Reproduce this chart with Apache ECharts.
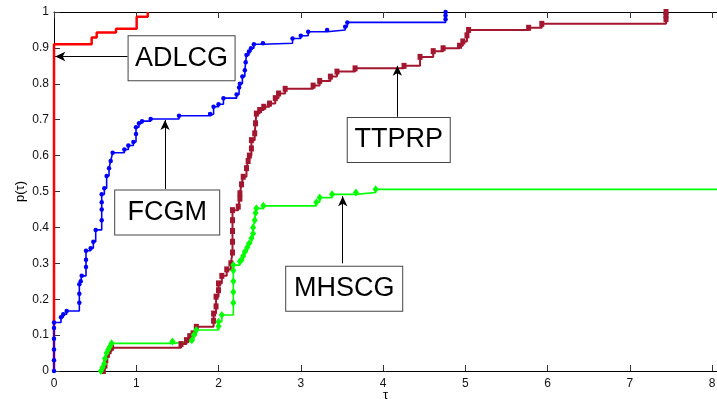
<!DOCTYPE html>
<html>
<head>
<meta charset="utf-8">
<script src="https://cdn.jsdelivr.net/npm/echarts@6/dist/echarts.min.js"></script>
<style>
  html, body { margin: 0; padding: 0; background: #fff; }
  #perfProfile { width: 717px; height: 399px; }
</style>
</head>
<body>
<div id="perfProfile"></div>
<script>
// tick labels
var xTickLabels = ['0', '1', '2', '3', '4', '5', '6', '7', '8'];
var yTickLabels = ['0', '0.1', '0.2', '0.3', '0.4', '0.5', '0.6', '0.7', '0.8', '0.9', '1'];

// [tau, p(tau)]
var adlcg = [[0, 0], [0, 0.91], [0.458, 0.929], [0.519, 0.943], [0.754, 0.953], [1.005, 0.987], [1.14, 1.0]];

var fcgm = [[0, 0], [0, 0.03], [0, 0.06], [0, 0.09], [0, 0.12], [0, 0.135], [0.085, 0.15], [0.113, 0.158],
  [0.154, 0.167], [0.308, 0.19], [0.308, 0.215], [0.308, 0.2415], [0.325, 0.25], [0.337, 0.265],
  [0.389, 0.29], [0.389, 0.31], [0.389, 0.335], [0.446, 0.342], [0.478, 0.36], [0.507, 0.393],
  [0.58, 0.42], [0.58, 0.45], [0.58, 0.47], [0.58, 0.492], [0.612, 0.509], [0.64, 0.543], [0.669, 0.565],
  [0.689, 0.585], [0.713, 0.608], [0.855, 0.617], [0.904, 0.628], [0.965, 0.638], [0.997, 0.66],
  [0.997, 0.679], [1.033, 0.69], [1.07, 0.696], [1.175, 0.702], [1.52, 0.711], [1.897, 0.716],
  [1.94, 0.736], [2.0, 0.743], [2.06, 0.76], [2.22, 0.77], [2.25, 0.79], [2.26, 0.80], [2.29, 0.82],
  [2.32, 0.838], [2.33, 0.86], [2.34, 0.88], [2.37, 0.89], [2.395, 0.899], [2.43, 0.91], [2.54, 0.913],
  [2.90, 0.926], [3.0, 0.934], [3.09, 0.945], [3.32, 0.95], [3.54, 0.959], [3.566, 0.971],
  [4.76, 0.98], [4.76, 0.99], [4.76, 1.0]];

var ttprp = [[0.6, 0], [0.62, 0.015], [0.63, 0.03], [0.65, 0.045], [0.67, 0.055], [0.7, 0.065],
  [1.544, 0.075], [1.61, 0.086], [1.65, 0.097], [1.69, 0.105], [1.73, 0.123], [1.94, 0.14], [1.94, 0.16],
  [1.97, 0.18], [1.97, 0.207], [2.0, 0.225], [2.0, 0.244], [2.04, 0.265], [2.1, 0.283], [2.15, 0.30],
  [2.17, 0.33], [2.17, 0.36], [2.17, 0.39], [2.17, 0.42], [2.17, 0.448], [2.24, 0.458], [2.26, 0.48],
  [2.26, 0.495], [2.28, 0.52], [2.30, 0.541], [2.34, 0.565], [2.36, 0.585], [2.375, 0.60], [2.40, 0.62],
  [2.40, 0.643], [2.44, 0.662], [2.45, 0.69], [2.46, 0.717], [2.5, 0.727], [2.55, 0.736], [2.62, 0.745],
  [2.69, 0.76], [2.73, 0.773], [2.81, 0.786], [3.15, 0.795], [3.23, 0.808], [3.36, 0.82], [3.44, 0.834],
  [3.66, 0.843], [4.255, 0.85], [4.45, 0.875], [4.61, 0.891], [4.73, 0.899], [4.93, 0.906], [4.97, 0.918],
  [5.02, 0.935], [5.04, 0.95], [5.77, 0.956], [5.93, 0.967], [7.44, 0.98], [7.44, 0.99], [7.44, 1.0]];

var mhscg = [[0.57, 0], [0.59, 0.01], [0.61, 0.02], [0.62, 0.035], [0.64, 0.05], [0.66, 0.06], [0.68, 0.068],
  [0.70, 0.077], [1.44, 0.082], [1.675, 0.086], [1.70, 0.10], [1.73, 0.114], [2.0, 0.125], [2.0, 0.137],
  [2.04, 0.156], [2.18, 0.19], [2.18, 0.22], [2.18, 0.25], [2.18, 0.28], [2.18, 0.295], [2.26, 0.305],
  [2.28, 0.31], [2.30, 0.32], [2.32, 0.332], [2.35, 0.345], [2.37, 0.355], [2.40, 0.37], [2.42, 0.383],
  [2.42, 0.40], [2.44, 0.42], [2.45, 0.44], [2.46, 0.453], [2.545, 0.46], [3.19, 0.47], [3.23, 0.483],
  [3.38, 0.492], [3.67, 0.497], [3.91, 0.506], [8.6, 0.508]];

// annotations: box centre, arrow start -> arrow tip (data coords)
var notes = [
  { text: 'ADLCG', box: [1.551, 0.871], w: 96, from: [0.894, 0.876], to: [0.015, 0.876] },
  { text: 'FCGM', box: [1.376, 0.4415], w: 94, from: [1.35, 0.507], to: [1.35, 0.699] },
  { text: 'TTPRP', box: [4.191, 0.6435], w: 92, from: [4.174, 0.708], to: [4.174, 0.85] },
  { text: 'MHSCG', box: [3.528, 0.229], w: 106, from: [3.51, 0.30], to: [3.51, 0.487] }
];

var myChart = echarts.init(document.getElementById('perfProfile'), null, { renderer: 'canvas' });
var font = '"Liberation Sans", Arial, Helvetica, sans-serif';

function stairs(name, data, color, width, symbol, size) {
  return {
    name: name,
    type: 'line',
    step: 'end',
    data: data,
    showAllSymbol: true,
    symbol: symbol,
    symbolSize: size,
    itemStyle: { color: color },
    lineStyle: { color: color, width: width },
    z: 3
  };
}

var option = {
  animation: false,
  backgroundColor: '#fff',
  textStyle: { fontFamily: font },
  grid: { left: 54, top: 12, right: 0, bottom: 28, containLabel: false, outerBoundsMode: 'none' },
  xAxis: [{
    type: 'value', min: 0, max: 8.06, interval: 1,
    name: 'τ', nameLocation: 'middle', nameGap: 18, nameMoveOverlap: false,
    nameTextStyle: { color: '#000', fontSize: 13, fontFamily: font },
    axisLine: { lineStyle: { color: '#000', width: 1 } },
    axisTick: { inside: true, length: 6, lineStyle: { color: '#333' } },
    axisLabel: { color: '#111', fontSize: 12, margin: 7, fontFamily: font,
      formatter: function (v) { return xTickLabels[Math.round(v)]; } },
    splitLine: { show: false }
  }, {
    type: 'value', position: 'top', min: 0, max: 8.06, interval: 1,
    axisLine: { lineStyle: { color: '#000', width: 1 } },
    axisTick: { inside: true, length: 6, lineStyle: { color: '#333' } },
    axisLabel: { show: false },
    splitLine: { show: false }
  }],
  yAxis: {
    type: 'value', min: 0, max: 1, interval: 0.1,
    name: 'p(τ)', nameLocation: 'middle', nameGap: 27, nameMoveOverlap: false,
    nameTextStyle: { color: '#000', fontSize: 13, fontFamily: font },
    axisLine: { lineStyle: { color: '#000', width: 1 } },
    axisTick: { inside: true, length: 6, lineStyle: { color: '#333' } },
    axisLabel: { color: '#111', fontSize: 12, margin: 5, fontFamily: font,
      formatter: function (v) { return yTickLabels[Math.round(v * 10)]; } },
    splitLine: { show: false }
  },
  series: [
    stairs('ADLCG', adlcg, '#ff0000', 2.5, 'none', 0),
    stairs('FCGM', fcgm, '#0000ff', 1.6, 'circle', 4.5),
    stairs('TTPRP', ttprp, '#a3162f', 2, 'rect', [5, 6]),
    stairs('MHSCG', mhscg, '#00ff00', 1.6, 'diamond', [6, 8]),
    {
      name: 'notes',
      type: 'line',
      data: [],
      z: 5,
      markLine: {
        silent: true,
        symbol: ['none', 'arrow'],
        symbolSize: [7, 10],
        lineStyle: { color: '#000', width: 1, type: 'solid' },
        label: { show: false },
        data: notes.map(function (n) { return [{ coord: n.from }, { coord: n.to }]; })
      },
      markPoint: {
        silent: true,
        symbol: 'rect',
        symbolSize: 0,
        data: notes.map(function (n) {
          return {
            coord: n.box,
            label: {
              show: true, position: 'inside', formatter: n.text,
              color: '#000', fontSize: 27, fontFamily: font, lineHeight: 27,
              width: n.w, align: 'center', verticalAlign: 'middle',
              backgroundColor: '#fff', borderColor: '#444', borderWidth: 1,
              padding: [6, 5, 11, 5]
            }
          };
        })
      }
    }
  ]
};

myChart.setOption(option);
window.onresize = myChart.resize;
</script>
</body>
</html>
